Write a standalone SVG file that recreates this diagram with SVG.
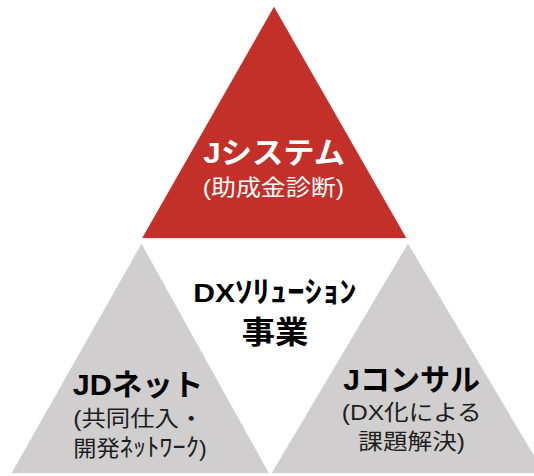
<svg xmlns="http://www.w3.org/2000/svg" width="534" height="476" viewBox="0 0 534 476">
<style>
.red{fill:#C3302A;stroke:#ffffff;stroke-width:0.8}
.gray{fill:#D0CECE;stroke:#ffffff;stroke-width:0.8}
text{font-family:"Liberation Sans","Noto Sans CJK JP",sans-serif}
.tb{font-weight:bold}
.w{fill:#ffffff}
.k{fill:#000000}
.d{fill:#1e1e1e}
</style>
<rect width="534" height="476" fill="#ffffff"/>
<g id="jsystem">
<polygon class="red" points="274,6 141.5,238.5 407,238.5"/>
<text class="tb w" x="203.3" y="163" font-size="30" textLength="141.7" lengthAdjust="spacingAndGlyphs">Jシステム</text>
<text class="w" x="202.7" y="194.5" font-size="22" textLength="141.3" lengthAdjust="spacingAndGlyphs">(助成金診断)</text>
</g>
<g id="jdnet">
<polygon class="gray" points="141.5,243 11,473.5 269.5,473.5"/>
<text class="tb k" x="72.7" y="394.5" font-size="30" textLength="130.6" lengthAdjust="spacingAndGlyphs">JDネット</text>
<text class="d" x="73.3" y="425.5" font-size="22" textLength="130" lengthAdjust="spacingAndGlyphs">(共同仕入・</text>
<text class="d" x="73.3" y="455.5" font-size="22" textLength="133.4" lengthAdjust="spacingAndGlyphs">開発<tspan font-size="25">ﾈｯﾄﾜｰｸ</tspan>)</text>
</g>
<g id="jconsul">
<polygon class="gray" points="408,243 271,473.5 545,473.5"/>
<text class="tb k" x="343.3" y="389.5" font-size="30" textLength="136.7" lengthAdjust="spacingAndGlyphs">Jコンサル</text>
<text class="d" x="341.7" y="420" font-size="22" textLength="140" lengthAdjust="spacingAndGlyphs">(DX化による</text>
<text class="d" x="358.3" y="448.5" font-size="22" textLength="106.7" lengthAdjust="spacingAndGlyphs">課題解決)</text>
</g>
<g id="center">
<text class="tb k" x="193.3" y="301.5" font-size="26" textLength="163.4" lengthAdjust="spacingAndGlyphs">DX<tspan font-size="30">ｿﾘｭｰｼｮﾝ</tspan></text>
<text class="tb k" x="241.7" y="342.5" font-size="31" textLength="66.6" lengthAdjust="spacingAndGlyphs">事業</text>
</g>
<g id="connectors"></g>
</svg>
